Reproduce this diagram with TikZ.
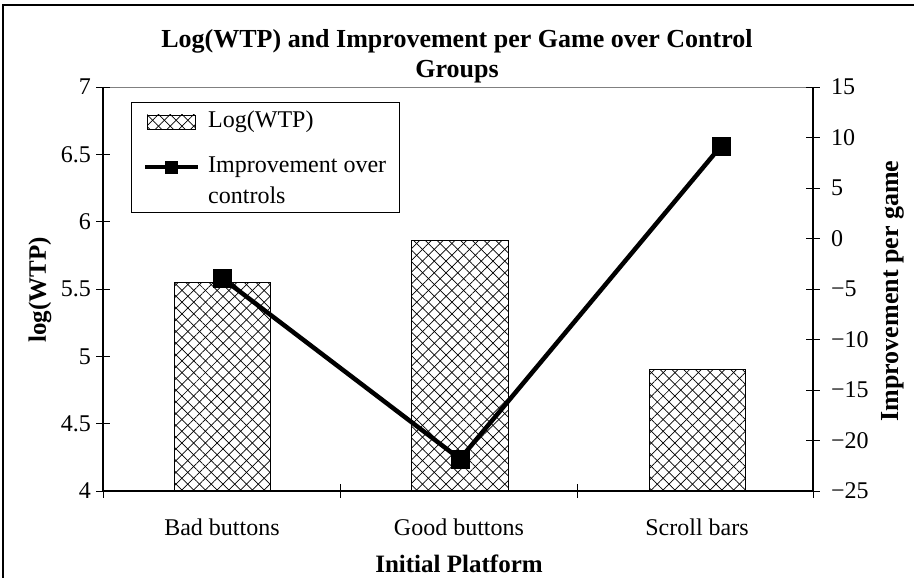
\documentclass[tikz,border=0pt]{standalone}
\usepackage{fontspec}
\setmainfont{Liberation Serif}
\usetikzlibrary{patterns.meta}

\tikzset{
  txt/.style={font=\fontsize{24}{28}\selectfont, inner sep=0pt},
  ttxt/.style={font=\fontsize{26}{30}\selectfont\bfseries, inner sep=0pt},
  atxt/.style={font=\fontsize{25}{29}\selectfont\bfseries, inner sep=0pt},
  axisline/.style={line width=1.1pt},
  tickline/.style={line width=0.9pt},
  hatchbar/.style={draw=black, line width=0.9pt,
    preaction={pattern={Lines[angle=45,distance=8.3pt,line width=0.7pt]}},
    preaction={pattern={Lines[angle=-45,distance=8.3pt,line width=0.7pt]}}},
  seriesline/.style={line width=4.5pt, line join=miter},
  marksq/.style={fill=black, minimum size=19pt, inner sep=0pt, outer sep=0pt, rectangle},
  legendbox/.style={draw=black, line width=1pt}
}

\begin{document}
\begin{tikzpicture}[x=1pt, y=-1pt]
\useasboundingbox (0,0) rectangle (914,578);

% chart frame
\draw[line width=1.5pt] (3,578) -- (3,5) -- (914,5);

% title
\node[ttxt] (title1) at (457,41) {Log(WTP) and Improvement per Game over Control};
\node[ttxt] (title2) at (457,72) {Groups};

% bars: log(WTP), y = 491 - (v-4)*134.67
\path[hatchbar] (174,491) rectangle (270,282);
\path[hatchbar] (411,491) rectangle (508,240);
\path[hatchbar] (649,491) rectangle (745,369);

% plot area
\draw[gray, line width=0.5pt] (103,87) -- (813,87);
\draw[axisline] (103,87) -- (103,491) -- (813,491) -- (813,87);

% left axis ticks and labels
\foreach \v/\lab in {0/4, 1/4.5, 2/5, 3/5.5, 4/6, 5/6.5, 6/7} {
  \draw[tickline] (96,{491-\v*67.33}) -- (110,{491-\v*67.33});
  \node[txt, anchor=east] at (91,{491-\v*67.33}) {\lab};
}
% right axis ticks and labels
\foreach \v/\lab in {0/−25, 1/−20, 2/−15, 3/−10, 4/−5, 5/0, 6/5, 7/10, 8/15} {
  \draw[tickline] (806,{491-\v*50.5}) -- (820,{491-\v*50.5});
  \node[txt, anchor=west] at (831,{491-\v*50.5}) {\lab};
}
% category ticks
\foreach \x in {340,577} {
  \draw[tickline] (\x,484) -- (\x,498);
}
\draw[tickline] (103,491) -- (103,498);
\draw[tickline] (813,491) -- (813,498);

% category labels
\node[txt] (c1) at (222,527) {Bad buttons};
\node[txt] (c2) at (459,527) {Good buttons};
\node[txt] (c3) at (697,527) {Scroll bars};

% axis titles
\node[atxt] (xt) at (459,564) {Initial Platform};
\node[atxt, rotate=90] (yl) at (40,290) {log(WTP)};
\node[atxt, font=\fontsize{26}{30}\selectfont\bfseries, rotate=90] (yr) at (893,291) {Improvement per game};

% improvement series, y = 238.5 - w*10.1
\node[marksq] (m1) at (222,278) {};
\node[marksq] (m2) at (460,459) {};
\node[marksq] (m3) at (721,146) {};
\draw[seriesline] (m1.center) -- (m2.center) -- (m3.center);
\node[marksq] at (m1) {};
\node[marksq] at (m2) {};
\node[marksq] at (m3) {};

% legend
\draw[legendbox, fill=white] (131,103) rectangle (399,212);
\path[hatchbar, line width=0.8pt] (147,115) rectangle (195,129);
\node[txt, anchor=west] (lg1) at (208,122) {Log(WTP)};
\coordinate (la) at (145,167);
\coordinate (lb) at (198,167);
\draw[line width=4pt] (la) -- (lb);
\node[marksq, minimum size=13pt] (lm) at (171,167) {};
\node[txt, anchor=west] (lg2) at (208,167) {Improvement over};
\node[txt, anchor=west] (lg3) at (208,195) {controls};
\end{tikzpicture}
\end{document}
